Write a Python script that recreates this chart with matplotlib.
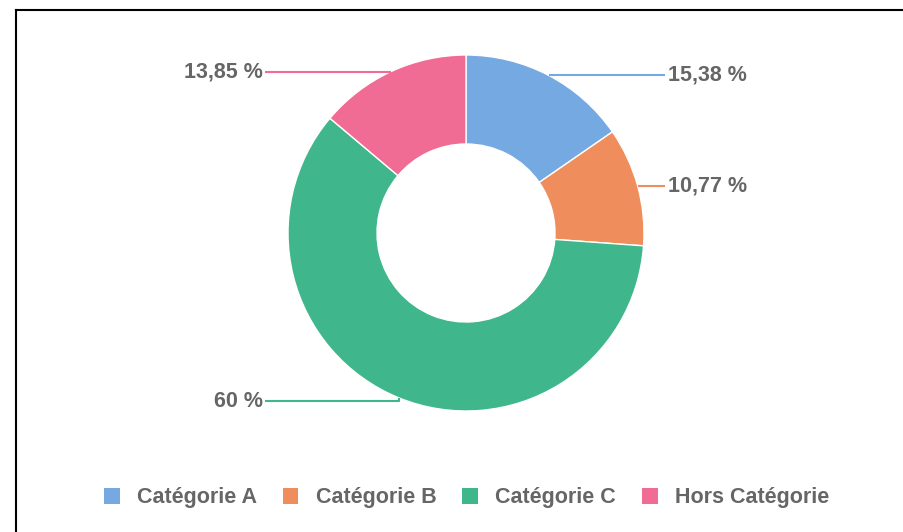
import matplotlib.pyplot as plt
import numpy as np
from matplotlib.lines import Line2D
from matplotlib.patches import Patch

# data
categories = ["Catégorie A", "Catégorie B", "Catégorie C", "Hors Catégorie"]
shares = [15.38, 10.77, 60.0, 13.85]
share_labels = ["15,38 %", "10,77 %", "60 %", "13,85 %"]
colors = ["#74A9E1", "#EF8D5C", "#40B68D", "#F06C94"]

TEXT_GREY = "#666666"
FONT = "Liberation Sans"

W, H = 904, 532
fig = plt.figure(figsize=(W / 100, H / 100), dpi=100)

# donut axes: centre (466, 233) px from top, radius 178 px
cx, cy, r = 466, 233, 178
ax = fig.add_axes([(cx - r) / W, (H - cy - r) / H, 2 * r / W, 2 * r / H])
wedges, _ = ax.pie(
    shares,
    colors=colors,
    startangle=90,
    counterclock=False,
    radius=1.0,
    wedgeprops=dict(width=0.5, edgecolor="white", linewidth=1),
)
ax.set_xlim(-1, 1)
ax.set_ylim(-1, 1)
ax.set_aspect("equal")
ax.axis("off")

# leader lines + labels (small drop where the label sits below the edge)
x_right = (665 - cx) / r
x_left = (265 - cx) / r
for w, txt, col in zip(wedges, share_labels, colors):
    mid = np.deg2rad((w.theta1 + w.theta2) / 2)
    ex, ey = np.cos(mid), np.sin(mid)
    if ex >= 0:
        xe, ha, pad = x_right, "left", 0.015
    else:
        xe, ha, pad = x_left, "right", -0.012
    ly = ey - 0.018 if ey < 0 else ey
    ax.plot([ex, ex, xe], [ey, ly, ly], color=col, lw=1.5, clip_on=False,
            solid_capstyle="butt")
    ax.text(xe + pad, ly, txt, ha=ha, va="center", fontsize=15.5,
            fontweight="bold", color=TEXT_GREY, family=FONT)

# legend
handles = [Patch(facecolor=c, edgecolor="none") for c in colors]
leg = fig.legend(
    handles, categories,
    loc="center", bbox_to_anchor=(466.5 / W, (H - 498) / H), ncol=4,
    frameon=False, handlelength=0.74, handleheight=0.74,
    handletextpad=0.8, columnspacing=1.2,
    prop=dict(family=FONT, weight="bold", size=15.5),
)
for t in leg.get_texts():
    t.set_color(TEXT_GREY)

# frame (top and left edges visible)
fig.add_artist(Line2D([16 / W, 16 / W], [0, (H - 10) / H], color="black", lw=1.5,
                      transform=fig.transFigure))
fig.add_artist(Line2D([16 / W, 1], [(H - 10) / H, (H - 10) / H], color="black", lw=1.5,
                      transform=fig.transFigure))

fig.savefig("out.png", dpi=100)
